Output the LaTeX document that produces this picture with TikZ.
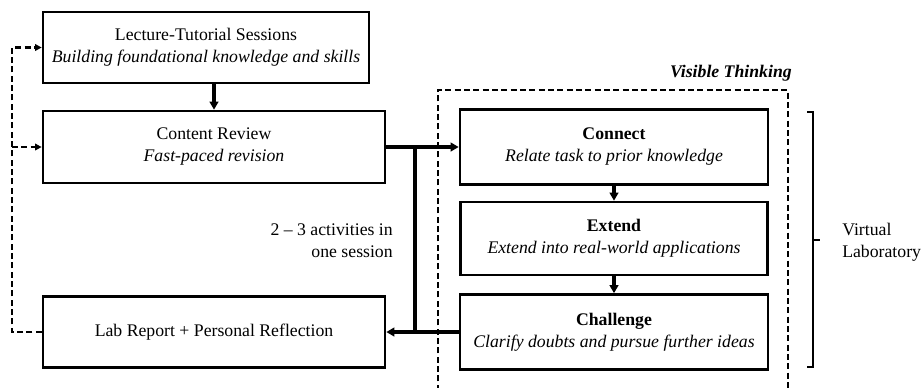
\documentclass[tikz,border=0pt]{standalone}
\usepackage{fontspec}
\setmainfont{Liberation Serif}
\usetikzlibrary{arrows.meta}

\begin{document}
\begin{tikzpicture}[x=0.75pt,y=-0.75pt,
    txt/.style={font={\fontsize{13.3}{16.5}\selectfont},align=center},
    box/.style={txt,draw,line width=2pt,inner sep=0pt},
    flow/.style={line width=2.4pt,-{Triangle[length=6pt,width=6.5pt]}},
    feedback/.style={line width=1.8pt,dash pattern=on 4.5pt off 2.5pt,
        -{Triangle[length=5pt,width=5pt]}}]
\useasboundingbox (0,0) rectangle (924,387);

% left column
\node[box,minimum width=244.5pt,minimum height=53.25pt] (lecture) at (206,47.5)
    {Lecture-Tutorial Sessions\\\textit{Building foundational knowledge and skills}};
\node[box,minimum width=256.5pt,minimum height=54pt] (review) at (214,147)
    {Content Review\\\textit{Fast-paced revision}};
\node[box,minimum width=256.5pt,minimum height=53.25pt] (lab) at (214,332)
    {Lab Report + Personal Reflection};

% visible thinking steps
\draw[line width=1.8pt,dash pattern=on 4.5pt off 2.5pt] (438,400) |- (788,90) -- (788,400);
\node[txt,anchor=base east,inner sep=0pt] (vt) at (792,77) {\bfseries\itshape Visible Thinking};
\node[box,minimum width=231pt,minimum height=56.25pt] (connect) at (614,147)
    {\textbf{Connect}\\\textit{Relate task to prior knowledge}};
\node[box,minimum width=230.25pt,minimum height=54.75pt] (extend) at (614,238.5)
    {\textbf{Extend}\\\textit{Extend into real-world applications}};
\node[box,minimum width=231pt,minimum height=56.25pt] (challenge) at (614,332)
    {\textbf{Challenge}\\\textit{Clarify doubts and pursue further ideas}};

\draw[flow] (lecture.south -| review.north) -- (review.north);
\draw[flow] (review.east) -- (connect.west);
\draw[flow] (connect.south) -- (extend.north);
\draw[flow] (extend.south) -- (challenge.north);
\draw[flow] (challenge.west) -- (lab.east);

\coordinate (junc) at (415,147);
\draw[line width=2.4pt] (junc) -- (junc |- lab.east);
\node[txt,align=right,anchor=east,inner sep=0pt] (acts) at (393,240.5) {2 -- 3 activities in\\one session};

% feedback loop
\coordinate (fb) at (12,332);
\draw[feedback] (lab.west) -- (fb) |- (lecture.west);
\draw[feedback] (fb |- review.west) -- (review.west);

% brace
\draw[line width=1.6pt] (807,112) -- (813,112) -- (813,367) -- (807,367);
\draw[line width=1.6pt] (813,240) -- (820,240);
\node[txt,align=left,anchor=west,inner sep=0pt] (vlab) at (842,242) {Virtual\\Laboratory};
\end{tikzpicture}
\end{document}
